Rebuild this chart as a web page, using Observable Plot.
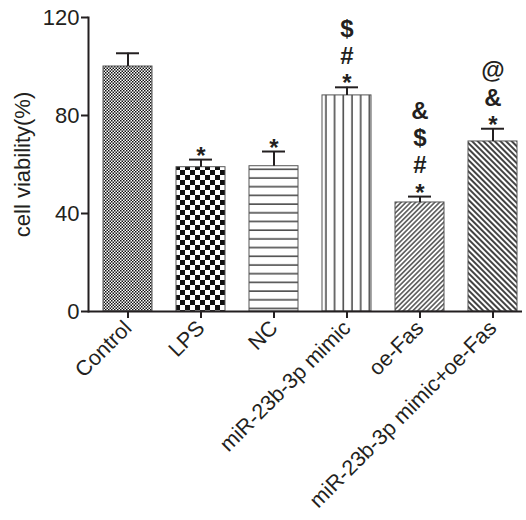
<!DOCTYPE html>
<html><head><meta charset="utf-8">
<script src="https://cdn.jsdelivr.net/npm/d3@7"></script>
<script src="https://cdn.jsdelivr.net/npm/@observablehq/plot@0.6"></script>
<style>body{margin:0;background:#fff}</style>
</head><body><div id="chart"></div>
<script>
const groups = ["Control", "LPS", "NC", "miR-23b-3p mimic", "oe-Fas", "miR-23b-3p mimic+oe-Fas"];
const viability = [100, 58.9, 59.3, 88.2, 44.5, 69.4];
const errors = [5.4, 3.1, 6.0, 3.3, 2.4, 5.2];
const sigMarks = ["", "*", "*", "$\n#\n*", "&\n$\n#\n*", "@\n&\n*"];
const patternIds = ["pat-control", "pat-lps", "pat-nc", "pat-mimic", "pat-oefas", "pat-combo"];
const yTicks = [0, 40, 80, 120];

const data = groups.map((g, i) => ({
  group: g, value: viability[i], top: viability[i] + errors[i], sig: sigMarks[i],
  fill: `url(#${patternIds[i]})`
}));

const ink = "#231f20";
const chart = Plot.plot({
  width: 526, height: 520,
  marginLeft: 88, marginRight: 4, marginTop: 17, marginBottom: 209,
  style: {fontFamily: "'Liberation Sans', Arial, sans-serif", color: ink, background: "#fff"},
  x: {domain: groups, paddingInner: 0.33, paddingOuter: 0.137, align: 0.75},
  y: {domain: [0, 120]},
  color: {type: "identity"},
  marks: [
    Plot.barY(data, {x: "group", y: "value", fill: "fill", stroke: "#555", strokeWidth: 1}),
    Plot.ruleX(data, {x: "group", y1: "value", y2: "top", stroke: ink, strokeWidth: 2}),
    Plot.tickY(data, {x: "group", y: "top", stroke: ink, strokeWidth: 2, insetLeft: 13, insetRight: 13}),
    Plot.text(data, {x: "group", y: "top", text: "sig", lineAnchor: "bottom", lineHeight: 1.13,
      fontSize: 24, fontWeight: "bold", fill: ink, dy: 4}),
    Plot.ruleY([0], {stroke: ink, strokeWidth: 2}),
    Plot.frame({anchor: "left", stroke: ink, strokeWidth: 2}),
    Plot.axisY({ticks: yTicks, tickSize: 7, tickPadding: 2, fontSize: 22, strokeWidth: 2,
      label: "cell viability(%)", labelAnchor: "center", labelArrow: "none", labelOffset: 74}),
    Plot.axisX({tickSize: 7, tickRotate: -45, fontSize: 21.5, tickPadding: 6, strokeWidth: 2, label: null})
  ]
});

// fill patterns
const svg = d3.select(chart);
const defs = svg.insert("defs", ":first-child");
function pat(id, w, h, transform) {
  const p = defs.append("pattern").attr("id", id).attr("patternUnits", "userSpaceOnUse")
    .attr("width", w).attr("height", h);
  if (transform) p.attr("patternTransform", transform);
  p.append("rect").attr("width", w).attr("height", h).attr("fill", "#fff");
  return p;
}
let p = pat("pat-control", 3, 3);
p.append("rect").attr("width", 1.5).attr("height", 1.5).attr("fill", "#111");
p.append("rect").attr("x", 1.5).attr("y", 1.5).attr("width", 1.5).attr("height", 1.5).attr("fill", "#111");
p = pat("pat-lps", 10, 10);
p.append("rect").attr("width", 5).attr("height", 5).attr("fill", "#111");
p.append("rect").attr("x", 5).attr("y", 5).attr("width", 5).attr("height", 5).attr("fill", "#111");
p = pat("pat-nc", 10, 8.7);
p.append("line").attr("x1", 0).attr("x2", 10).attr("y1", 4).attr("y2", 4).attr("stroke", "#222").attr("stroke-width", 1.3);
p = pat("pat-mimic", 8.7, 10);
p.append("line").attr("x1", 4).attr("x2", 4).attr("y1", 0).attr("y2", 10).attr("stroke", "#222").attr("stroke-width", 1.3);
p = pat("pat-oefas", 3.4, 10, "rotate(45)");
p.append("line").attr("x1", 1.7).attr("x2", 1.7).attr("y1", 0).attr("y2", 10).attr("stroke", "#222").attr("stroke-width", 1.2);
p = pat("pat-combo", 4, 10, "rotate(-45)");
p.append("line").attr("x1", 2).attr("x2", 2).attr("y1", 0).attr("y2", 10).attr("stroke", "#222").attr("stroke-width", 1.7);

document.getElementById("chart").appendChild(chart);
</script>
</body></html>
